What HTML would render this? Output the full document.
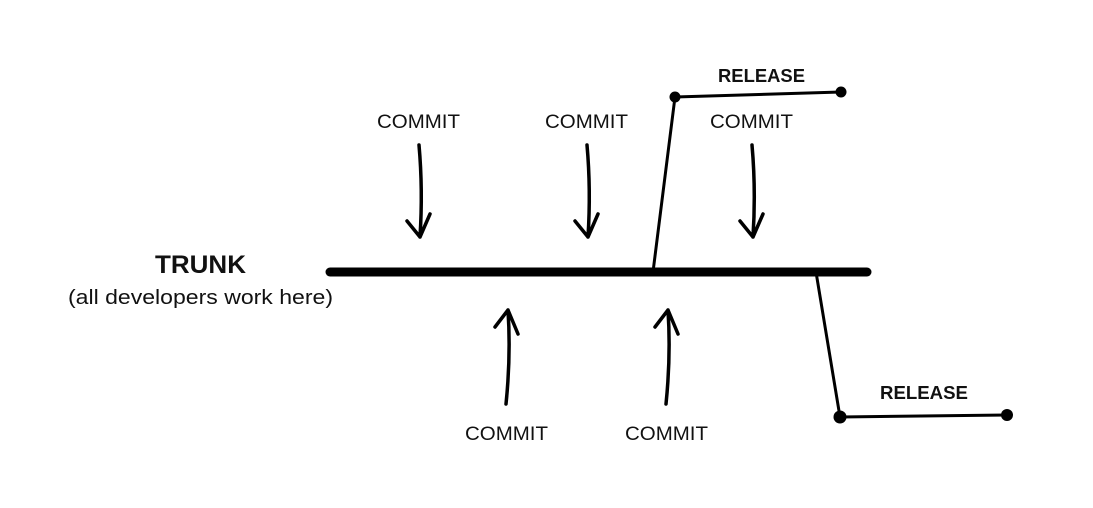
<!DOCTYPE html>
<html><head><meta charset="utf-8"><style>
html,body{margin:0;padding:0;background:#fff;}
svg{display:block;}
</style></head><body>
<svg width="1093" height="508" viewBox="0 0 1093 508" xmlns="http://www.w3.org/2000/svg">
<g font-family="Liberation Sans, sans-serif" fill="#111" lengthAdjust="spacingAndGlyphs">
<text x="155" y="273" font-size="25" font-weight="bold" textLength="91" lengthAdjust="spacingAndGlyphs">TRUNK</text>
<text x="68" y="304" font-size="20" textLength="265" lengthAdjust="spacingAndGlyphs">(all developers work here)</text>
<text x="377" y="128" font-size="19" textLength="83" lengthAdjust="spacingAndGlyphs">COMMIT</text>
<text x="545" y="128" font-size="19" textLength="83" lengthAdjust="spacingAndGlyphs">COMMIT</text>
<text x="710" y="128" font-size="19" textLength="83" lengthAdjust="spacingAndGlyphs">COMMIT</text>
<text x="465" y="440" font-size="19" textLength="83" lengthAdjust="spacingAndGlyphs">COMMIT</text>
<text x="625" y="440" font-size="19" textLength="83" lengthAdjust="spacingAndGlyphs">COMMIT</text>
<text x="718" y="82" font-size="18" font-weight="bold" textLength="87" lengthAdjust="spacingAndGlyphs">RELEASE</text>
<text x="880" y="399" font-size="18" font-weight="bold" textLength="88" lengthAdjust="spacingAndGlyphs">RELEASE</text>
</g>
<g stroke="#000" fill="none" stroke-linecap="round" stroke-linejoin="round">
<line x1="330" y1="272" x2="867" y2="272" stroke-width="9"/>
<line x1="653" y1="272" x2="675" y2="97" stroke-width="3"/>
<line x1="675" y1="97" x2="841" y2="92" stroke-width="3"/>
<line x1="816" y1="272" x2="840" y2="417" stroke-width="3"/>
<line x1="840" y1="417" x2="1007" y2="415" stroke-width="3"/>
<g stroke-width="3.5">
<path d="M419,145 Q423,190 420,237 M407,221 L420,237 L430,214"/>
<path d="M587,145 Q591,190 588,237 M575,221 L588,237 L598,214"/>
<path d="M752,145 Q756,190 753,237 M740,221 L753,237 L763,214"/>
<path d="M506,404 Q511,355 508,310 M495,327 L508,310 L518,334"/>
<path d="M666,404 Q671,355 668,310 M655,327 L668,310 L678,334"/>
</g>
</g>
<g fill="#000">
<circle cx="675" cy="97" r="5.5"/>
<circle cx="841" cy="92" r="5.5"/>
<circle cx="840" cy="417" r="6.5"/>
<circle cx="1007" cy="415" r="6"/>
</g>
</svg>
</body></html>
